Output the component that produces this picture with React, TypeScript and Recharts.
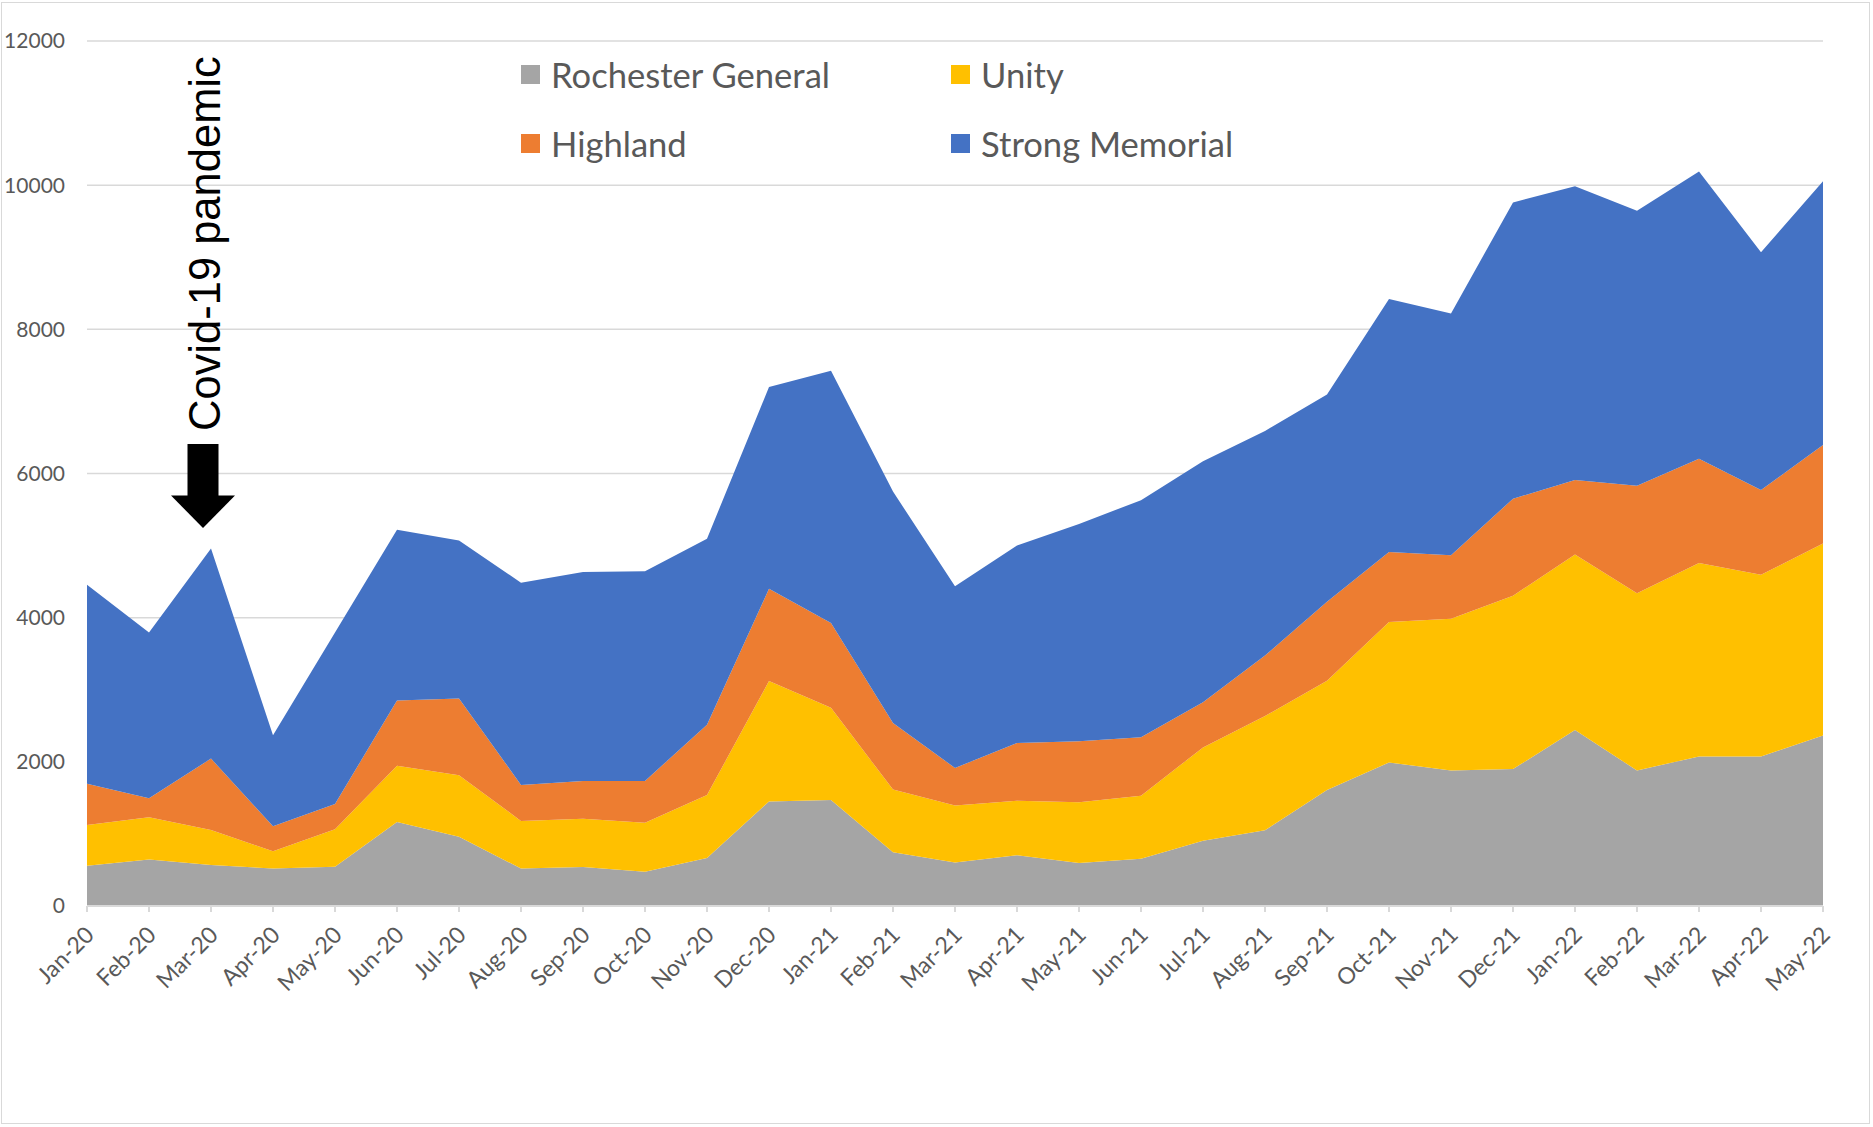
import { AreaChart, Area, XAxis, YAxis, CartesianGrid } from "recharts";

const months = [
  "Jan-20", "Feb-20", "Mar-20", "Apr-20", "May-20", "Jun-20", "Jul-20", "Aug-20",
  "Sep-20", "Oct-20", "Nov-20", "Dec-20", "Jan-21", "Feb-21", "Mar-21", "Apr-21",
  "May-21", "Jun-21", "Jul-21", "Aug-21", "Sep-21", "Oct-21", "Nov-21", "Dec-21",
  "Jan-22", "Feb-22", "Mar-22", "Apr-22", "May-22",
];

const rochesterGeneral = [
  560, 645, 570, 520, 545, 1165, 960, 520, 540, 475, 665, 1450, 1470, 745, 605,
  705, 595, 655, 905, 1050, 1610, 1990, 1880, 1900, 2440, 1880, 2075, 2075, 2365,
];
const unity = [
  565, 585, 485, 240, 520, 780, 855, 660, 670, 680, 875, 1670, 1280, 870, 790,
  755, 845, 875, 1295, 1585, 1515, 1950, 2105, 2405, 2435, 2460, 2685, 2520, 2665,
];
const highland = [
  570, 265, 990, 345, 350, 905, 1065, 500, 525, 580, 975, 1280, 1175, 925, 520,
  800, 845, 810, 625, 840, 1095, 970, 880, 1345, 1035, 1490, 1445, 1175, 1365,
];
const strongMemorial = [
  2760, 2300, 2915, 1265, 2380, 2370, 2190, 2805, 2900, 2910, 2580, 2800, 3500, 3210, 2520,
  2740, 3015, 3290, 3345, 3115, 2875, 3510, 3355, 4110, 4075, 3815, 3985, 3300, 3660,
];

const yTicks = [0, 2000, 4000, 6000, 8000, 10000, 12000];

const series = [
  { key: "rochesterGeneral", name: "Rochester General", color: "#A5A5A5" },
  { key: "unity", name: "Unity", color: "#FFC000" },
  { key: "highland", name: "Highland", color: "#ED7D31" },
  { key: "strongMemorial", name: "Strong Memorial", color: "#4472C4" },
];

const data = months.map((month, i) => ({
  month,
  rochesterGeneral: rochesterGeneral[i],
  unity: unity[i],
  highland: highland[i],
  strongMemorial: strongMemorial[i],
}));

// legend is laid out 2x2 like the original, row by row
const legendSpots = [
  { left: 521, top: 74 },
  { left: 951, top: 74 },
  { left: 521, top: 143 },
  { left: 951, top: 143 },
];

function MonthTick({ x, y, payload }: any) {
  return (
    <g transform={`translate(${x + 2},${y + 16})`}>
      <text
        transform="rotate(-45)"
        textAnchor="end"
        dominantBaseline="central"
        fill="#595959"
        fontSize={23}
        fontFamily="Lato"
      >
        {payload.value}
      </text>
    </g>
  );
}

export default function App() {
  return (
    <div
      style={{
        position: "absolute",
        left: 0,
        top: 0,
        width: 1873,
        height: 1127,
        background: "#fff",
      }}
    >
      <div
        style={{
          position: "absolute",
          left: 1,
          top: 2,
          width: 1867,
          height: 1120,
          border: "1px solid #d9d9d9",
        }}
      />
      <AreaChart
        width={1873}
        height={1127}
        data={data}
        margin={{ top: 41, right: 50, bottom: 111, left: 7 }}
      >
        <CartesianGrid vertical={false} stroke="#d9d9d9" strokeWidth={1.5} />
        <XAxis
          dataKey="month"
          height={110}
          interval={0}
          stroke="#d9d9d9"
          strokeWidth={2}
          tickSize={6}
          tick={<MonthTick />}
        />
        <YAxis
          width={80}
          domain={[0, 12000]}
          ticks={yTicks}
          axisLine={false}
          tickLine={false}
          tickSize={0}
          tickMargin={22}
          tick={{ fill: "#595959", fontSize: 21, fontFamily: "Lato" }}
        />
        {series.map((s) => (
          <Area
            key={s.key}
            type="linear"
            dataKey={s.key}
            name={s.name}
            stackId="total"
            fill={s.color}
            fillOpacity={1}
            stroke="none"
            isAnimationActive={false}
          />
        ))}
      </AreaChart>

      {series.map((s, i) => (
        <div
          key={s.key}
          style={{
            position: "absolute",
            left: legendSpots[i].left,
            top: legendSpots[i].top - 25,
            height: 50,
            display: "flex",
            alignItems: "center",
            fontFamily: "Lato",
            fontSize: 34.6,
            color: "#595959",
            whiteSpace: "nowrap",
          }}
        >
          <span
            style={{
              display: "inline-block",
              width: 19,
              height: 19,
              background: s.color,
              marginRight: 11,
            }}
          />
          {s.name}
        </div>
      ))}

      <svg
        width={1873}
        height={1127}
        style={{ position: "absolute", left: 0, top: 0, pointerEvents: "none" }}
      >
        <text
          transform="translate(220,431) rotate(-90)"
          fontFamily="Liberation Sans"
          fontSize={43.5}
          fill="#000"
        >
          Covid-19 pandemic
        </text>
        <rect x={187.5} y={444} width={31} height={52} fill="#000" />
        <polygon points="171,495.5 235,495.5 203,528" fill="#000" />
      </svg>
    </div>
  );
}
